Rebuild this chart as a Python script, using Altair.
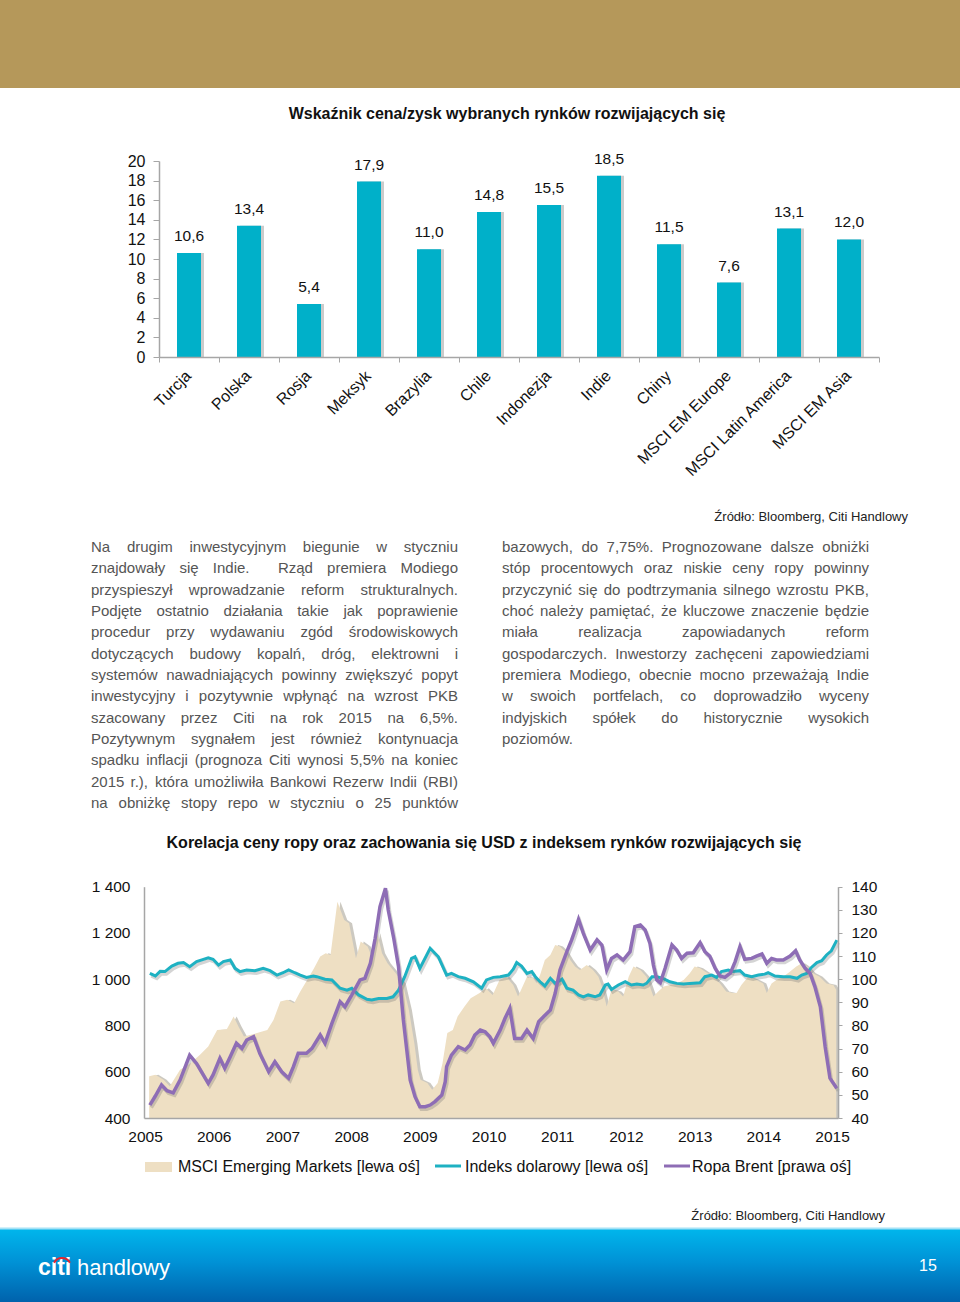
import altair as alt
import pandas as pd

FONT = "Liberation Sans"
GOLD = "#B5985A"
BAR = "#00B0C9"
CYAN = "#1EB1C2"
PURPLE = "#8E6DB5"
BEIGE = "#EEDFC3"
TXT = "#555555"
INK = "#111111"
AXC = "#A6A6A6"

# ---------------- data: bar chart ----------------
bar_categories = ["Turcja", "Polska", "Rosja", "Meksyk", "Brazylia", "Chile", "Indonezja",
                  "Indie", "Chiny", "MSCI EM Europe", "MSCI Latin America", "MSCI EM Asia"]
bar_values = [10.6, 13.4, 5.4, 17.9, 11.0, 14.8, 15.5, 18.5, 11.5, 7.6, 13.1, 12.0]
bar_labels = [f"{v:.1f}".replace(".", ",") for v in bar_values]
bar_ticks = list(range(0, 21, 2))

# ---------------- data: line chart ----------------
msci_t = [2005.06, 2005.15, 2005.27, 2005.36, 2005.51, 2005.66, 2005.80, 2005.92, 2006.05, 2006.19,
          2006.29, 2006.36, 2006.44, 2006.63, 2006.78, 2006.87, 2006.97, 2007.07, 2007.17, 2007.26,
          2007.36, 2007.46, 2007.55, 2007.63, 2007.70, 2007.80, 2007.90, 2007.97, 2008.07, 2008.14,
          2008.24, 2008.31, 2008.38, 2008.45, 2008.53, 2008.65, 2008.75, 2008.84, 2008.92, 2008.97,
          2009.01, 2009.11, 2009.18, 2009.26, 2009.33, 2009.40, 2009.48, 2009.55, 2009.65, 2009.74,
          2009.87, 2009.96, 2010.06, 2010.16, 2010.26, 2010.36, 2010.43, 2010.56, 2010.65, 2010.70,
          2010.75, 2010.82, 2010.90, 2010.97, 2011.04, 2011.12, 2011.19, 2011.26, 2011.33, 2011.43,
          2011.52, 2011.60, 2011.65, 2011.72, 2011.79, 2011.89, 2011.96, 2012.04, 2012.11, 2012.21,
          2012.30, 2012.40, 2012.47, 2012.55, 2012.64, 2012.74, 2012.84, 2012.93, 2013.00, 2013.08,
          2013.15, 2013.27, 2013.37, 2013.46, 2013.56, 2013.61, 2013.68, 2013.78, 2013.90, 2014.00,
          2014.05, 2014.12, 2014.19, 2014.29, 2014.39, 2014.48, 2014.56, 2014.63, 2014.72, 2014.82,
          2014.92, 2015.02, 2015.06]
msci_v = [580, 587, 565, 537, 609, 637, 673, 709, 781, 784,
          839, 796, 752, 767, 781, 824, 904, 911, 896, 947,
          997, 1047, 1098, 1112, 1105, 1335, 1256, 1242, 1091, 1163,
          1141, 1091, 1199, 1112, 1069, 1026, 983, 868, 724, 609,
          565, 551, 522, 551, 637, 767, 781, 839, 882, 918,
          940, 961, 932, 997, 1011, 975, 925, 1011, 1004, 983,
          1018, 1083, 1105, 1148, 1141, 1119, 1083, 1055, 1040, 1062,
          1040, 1011, 968, 882, 954, 947, 925, 1011, 1055, 1040,
          1011, 925, 947, 968, 975, 982, 997, 1026, 1055, 1047,
          1033, 1011, 982, 947, 940, 940, 975, 1011, 997, 982,
          940, 982, 997, 1011, 1033, 1055, 1069, 1055, 1026, 1011,
          982, 975, 954]

usd_t = [2005.07, 2005.15, 2005.22, 2005.29, 2005.39, 2005.48, 2005.56, 2005.65, 2005.75, 2005.85,
         2005.92, 2005.99, 2006.07, 2006.14, 2006.24, 2006.31, 2006.38, 2006.48, 2006.60, 2006.72,
         2006.82, 2006.92, 2007.01, 2007.09, 2007.18, 2007.26, 2007.35, 2007.45, 2007.50, 2007.62,
         2007.72, 2007.84, 2007.94, 2008.01, 2008.11, 2008.23, 2008.30, 2008.40, 2008.52, 2008.61,
         2008.69, 2008.78, 2008.88, 2008.93, 2009.00, 2009.15, 2009.27, 2009.39, 2009.46, 2009.56,
         2009.66, 2009.78, 2009.90, 2009.97, 2010.07, 2010.17, 2010.29, 2010.36, 2010.41, 2010.48,
         2010.56, 2010.63, 2010.68, 2010.75, 2010.82, 2010.90, 2010.97, 2011.07, 2011.14, 2011.23,
         2011.31, 2011.38, 2011.45, 2011.55, 2011.62, 2011.70, 2011.74, 2011.79, 2011.89, 2011.99,
         2012.08, 2012.16, 2012.25, 2012.30, 2012.38, 2012.45, 2012.54, 2012.64, 2012.74, 2012.84,
         2012.93, 2013.08, 2013.15, 2013.25, 2013.32, 2013.39, 2013.49, 2013.56, 2013.66, 2013.73,
         2013.83, 2013.93, 2014.02, 2014.07, 2014.17, 2014.29, 2014.39, 2014.49, 2014.56, 2014.63,
         2014.70, 2014.78, 2014.85, 2014.92, 2014.99, 2015.07]
usd_v = [1025, 1014, 1034, 1033, 1057, 1069, 1072, 1054, 1076, 1086,
         1093, 1086, 1061, 1076, 1083, 1047, 1033, 1040, 1037, 1047,
         1037, 1018, 1028, 1040, 1028, 1018, 1008, 1014, 1011, 1000,
         997, 961, 953, 961, 932, 913, 910, 917, 917, 924,
         953, 1011, 1090, 1097, 1047, 1134, 1097, 1018, 1025, 1011,
         1004, 989, 961, 997, 1008, 1011, 1018, 1043, 1072, 1057,
         1025, 1033, 1011, 989, 971, 1004, 982, 1000, 961, 953,
         932, 924, 932, 924, 932, 975, 979, 956, 975, 989,
         975, 979, 975, 982, 1011, 1011, 1004, 989, 982, 979,
         982, 985, 1011, 1018, 1008, 1033, 1040, 1033, 1037, 1018,
         1011, 1018, 1022, 1028, 1014, 1011, 1011, 1004, 1018, 1025,
         1051, 1072, 1080, 1105, 1123, 1169]

brent_t = [2005.07, 2005.15, 2005.24, 2005.32, 2005.41, 2005.51, 2005.65, 2005.75, 2005.82, 2005.92,
           2005.99, 2006.09, 2006.16, 2006.24, 2006.33, 2006.41, 2006.48, 2006.58, 2006.67, 2006.80,
           2006.89, 2006.99, 2007.09, 2007.16, 2007.23, 2007.35, 2007.43, 2007.55, 2007.62, 2007.72,
           2007.84, 2007.91, 2008.01, 2008.13, 2008.20, 2008.28, 2008.35, 2008.42, 2008.50, 2008.54,
           2008.62, 2008.69, 2008.76, 2008.81, 2008.86, 2008.93, 2009.00, 2009.08, 2009.15, 2009.22,
           2009.32, 2009.37, 2009.39, 2009.46, 2009.56, 2009.66, 2009.73, 2009.80, 2009.88, 2009.95,
           2010.02, 2010.07, 2010.17, 2010.24, 2010.31, 2010.38, 2010.48, 2010.56, 2010.65, 2010.73,
           2010.80, 2010.90, 2010.97, 2011.04, 2011.14, 2011.21, 2011.26, 2011.31, 2011.38, 2011.48,
           2011.58, 2011.65, 2011.72, 2011.79, 2011.87, 2011.96, 2012.06, 2012.13, 2012.21, 2012.28,
           2012.35, 2012.40, 2012.45, 2012.50, 2012.57, 2012.67, 2012.74, 2012.81, 2012.89, 2012.98,
           2013.08, 2013.15, 2013.22, 2013.30, 2013.37, 2013.44, 2013.52, 2013.59, 2013.66, 2013.73,
           2013.83, 2013.90, 2013.98, 2014.05, 2014.12, 2014.19, 2014.29, 2014.39, 2014.47, 2014.53,
           2014.61, 2014.68, 2014.75, 2014.83, 2014.90, 2014.97, 2015.07]
brent_v = [45.6, 49.5, 54.3, 51.8, 50.9, 56.4, 67.2, 63.6, 60.0, 55.0,
           58.6, 65.8, 61.5, 66.5, 72.3, 70.1, 73.7, 75.2, 68.0, 60.0,
           64.3, 60.0, 57.2, 62.2, 68.0, 68.0, 70.1, 75.9, 72.3, 80.9,
           90.3, 88.1, 93.2, 99.7, 100.4, 106.9, 117.7, 131.4, 139.3, 129.9,
           117.7, 105.4, 82.4, 69.4, 56.4, 49.2, 44.9, 44.9, 45.6, 47.1,
           49.9, 55.7, 62.2, 67.2, 70.8, 69.4, 71.6, 75.9, 78.0, 77.3,
           75.1, 72.3, 78.0, 83.1, 87.4, 74.4, 74.4, 78.0, 74.4, 81.6,
           83.8, 86.7, 93.9, 104.0, 111.9, 117.0, 121.3, 125.9, 119.8, 112.6,
           117.0, 114.8, 104.0, 109.0, 110.5, 108.3, 111.9, 122.7, 123.4, 121.3,
           115.5, 106.1, 99.7, 98.5, 104.7, 114.8, 112.6, 109.0, 111.2, 111.4,
           115.8, 111.9, 110.0, 104.7, 101.4, 100.8, 102.6, 107.6, 114.1, 108.6,
           109.0, 110.0, 110.9, 106.9, 109.0, 108.3, 108.3, 110.0, 112.3, 108.3,
           104.7, 102.6, 96.8, 88.1, 70.8, 57.2, 52.8]

year_ticks = list(range(2005, 2016))
left_ticks = [400, 600, 800, 1000, 1200, 1400]
right_ticks = list(range(40, 141, 10))

legend_names = ["MSCI Emerging Markets [lewa oś]", "Indeks dolarowy [lewa oś]", "Ropa Brent [prawa oś]"]

# ---------------- text ----------------
title1 = "Wskaźnik cena/zysk wybranych rynków rozwijających się"
title2 = "Korelacja ceny ropy oraz zachowania się USD z indeksem rynków rozwijających się"
source = "Źródło: Bloomberg, Citi Handlowy"
left_lines = [
    "Na drugim inwestycyjnym biegunie w styczniu",
    "znajdowały się Indie.  Rząd premiera Modiego",
    "przyspieszył wprowadzanie reform strukturalnych.",
    "Podjęte ostatnio działania takie jak poprawienie",
    "procedur przy wydawaniu zgód środowiskowych",
    "dotyczących budowy kopalń, dróg, elektrowni i",
    "systemów nawadniających powinny zwiększyć popyt",
    "inwestycyjny i pozytywnie wpłynąć na wzrost PKB",
    "szacowany przez Citi na rok 2015 na 6,5%.",
    "Pozytywnym sygnałem jest również kontynuacja",
    "spadku inflacji (prognoza Citi wynosi 5,5% na koniec",
    "2015 r.), która umożliwiła Bankowi Rezerw Indii (RBI)",
    "na obniżkę stopy repo w styczniu o 25 punktów",
]
right_lines = [
    "bazowych, do 7,75%. Prognozowane dalsze obniżki",
    "stóp procentowych oraz niskie ceny ropy powinny",
    "przyczynić się do podtrzymania silnego wzrostu PKB,",
    "choć należy pamiętać, że kluczowe znaczenie będzie",
    "miała realizacja zapowiadanych reform",
    "gospodarczych. Inwestorzy zachęceni zapowiedziami",
    "premiera Modiego, obecnie mocno przeważają Indie",
    "w swoich portfelach, co doprowadziło wyceny",
    "indyjskich spółek do historycznie wysokich",
    "poziomów.",
]

# Arial / Liberation Sans advance widths (1/1000 em) for justified layout
AW = {' ': 278, '!': 278, '%': 889, '(': 333, ')': 333, ',': 278, '-': 333, '.': 278, '/': 278,
      ':': 278, ';': 278,
      'A': 667, 'B': 667, 'C': 722, 'D': 722, 'E': 667, 'F': 611, 'G': 778, 'H': 722, 'I': 278,
      'J': 500, 'K': 667, 'L': 556, 'M': 833, 'N': 722, 'O': 778, 'P': 667, 'Q': 778, 'R': 722,
      'S': 667, 'T': 611, 'U': 722, 'V': 667, 'W': 944, 'X': 667, 'Y': 667, 'Z': 611,
      'a': 556, 'b': 556, 'c': 500, 'd': 556, 'e': 556, 'f': 278, 'g': 556, 'h': 556, 'i': 222,
      'j': 222, 'k': 500, 'l': 222, 'm': 833, 'n': 556, 'o': 556, 'p': 556, 'q': 556, 'r': 333,
      's': 500, 't': 278, 'u': 556, 'v': 500, 'w': 722, 'x': 500, 'y': 500, 'z': 500,
      'ą': 556, 'ć': 500, 'ę': 556, 'ł': 222, 'ń': 556, 'ó': 556, 'ś': 500, 'ź': 500, 'ż': 500,
      'Ś': 667, 'Ź': 611, 'Ż': 611}
for d in "0123456789":
    AW[d] = 556

FS = 15


def tw(s):
    return sum(AW.get(c, 556) for c in s) * FS / 1000.0


def layout(lines, x0, width, y0, dy, last_left):
    rows = []
    for i, line in enumerate(lines):
        words = line.split(" ")
        widths = [tw(w) for w in words]
        n = len(words)
        justify = not (last_left and i == len(lines) - 1) and n > 1
        gap = (width - sum(widths)) / (n - 1) if justify else tw(" ")
        x = x0
        for w, wd in zip(words, widths):
            if w:
                rows.append({"word": w, "wx": x, "wy": y0 + i * dy})
            x += wd + gap
    return rows


words_df = pd.DataFrame(layout(left_lines, 91, 367, 547, 21.33, False) +
                        layout(right_lines, 502, 367, 547, 21.33, True))

one = pd.DataFrame({"k": [0]})


def deco_text(txt, x, y, size=15, weight="normal", align="left", color=INK):
    return alt.Chart(one).mark_text(text=txt, font=FONT, fontSize=size, fontWeight=weight,
                                    align=align, baseline="middle", color=color).encode(
        x=alt.value(x), y=alt.value(y))


def deco_rect(x, x2, y, y2, color):
    return alt.Chart(one).mark_rect(color=color).encode(
        x=alt.value(x), x2=alt.value(x2), y=alt.value(y), y2=alt.value(y2))


def deco_rule(x, x2, y, color, width):
    return alt.Chart(one).mark_rule(color=color, strokeWidth=width).encode(
        x=alt.value(x), x2=alt.value(x2), y=alt.value(y))


# ---------------- header ----------------
header = deco_rect(0, 960, 0, 88, GOLD)
t1 = deco_text(title1, 507, 114, 16, "bold", "center")
src1 = deco_text(source, 908, 517, 13, "normal", "right", "#222222")

# ---------------- bar chart ----------------
bar_df = pd.DataFrame({"cat": bar_categories, "v": bar_values, "label": bar_labels})


def bx(axis):
    return alt.X("cat:N", sort=bar_categories, title=None,
                 scale=alt.Scale(domain=bar_categories, range=[159, 879], paddingInner=0, paddingOuter=0),
                 axis=axis)


def by(axis):
    return alt.Y("v:Q", title=None, scale=alt.Scale(domain=[0, 20], range=[357, 161], nice=False),
                 axis=axis)


bar_x_axis = alt.Axis(orient="bottom", offset=357 - 1302, labelAngle=-45, labelAlign="right",
                      labelBaseline="middle", tickBand="extent", tickSize=5, labelPadding=11,
                      labelOffset=-1,
                      labelOverlap=False, labelBound=False, labelFontSize=16, zindex=1)
bar_y_axis = alt.Axis(orient="left", offset=-159, values=bar_ticks, tickSize=6, labelPadding=8,
                      labelFontSize=16, zindex=1)

bars_shadow = alt.Chart(bar_df).mark_bar(width=24, color="#8C8C8C", opacity=0.45, xOffset=3).encode(
    x=bx(None), y=by(None))
bars = alt.Chart(bar_df).mark_bar(width=24, color=BAR).encode(x=bx(bar_x_axis), y=by(bar_y_axis))
bar_text = alt.Chart(bar_df).mark_text(font=FONT, fontSize=15.5, color=INK, baseline="middle", dy=-17).encode(
    x=bx(None), y=by(None), text="label:N")

# ---------------- paragraphs ----------------
paragraphs = alt.Chart(words_df).mark_text(font=FONT, fontSize=FS, color=TXT, align="left",
                                           baseline="middle").encode(
    x=alt.X("wx:Q", scale=None, axis=None), y=alt.Y("wy:Q", scale=None, axis=None), text="word:N")

# ---------------- line chart ----------------
t2 = deco_text(title2, 484, 843, 16, "bold", "center")

msci_df = pd.DataFrame({"t": msci_t, "v": msci_v})
usd_df = pd.DataFrame({"t": usd_t, "v": usd_v})
brent_df = pd.DataFrame({"t": brent_t, "v": brent_v})


def lx(axis):
    return alt.X("t:Q", title=None,
                 scale=alt.Scale(domain=[2004.985, 2015.087], range=[144, 838], nice=False, zero=False),
                 axis=axis)


def ly_left(axis):
    return alt.Y("v:Q", title=None,
                 scale=alt.Scale(domain=[400, 1400], range=[1118, 886.7], nice=False, zero=False),
                 axis=axis)


def ly_right(axis):
    return alt.Y("v:Q", title=None,
                 scale=alt.Scale(domain=[40, 140], range=[1118, 886.7], nice=False, zero=False),
                 axis=axis)


line_x_axis = alt.Axis(orient="bottom", offset=1118 - 1302, values=year_ticks, format="d", ticks=False,
                       tickSize=0, labelPadding=11, labelFlush=False, labelOverlap=False,
                       labelFontSize=15.5, zindex=1)
left_axis = alt.Axis(orient="left", offset=-144, values=left_ticks, ticks=False, tickSize=0,
                     labelPadding=14, labelFontSize=15.5, zindex=1,
                     labelExpr="replace(format(datum.value, ','), ',', ' ')")
right_axis = alt.Axis(orient="right", offset=838 - 960, values=right_ticks, tickSize=4, labelPadding=9,
                      labelFontSize=15.5, zindex=1)

area_shadow = alt.Chart(msci_df).mark_area(color="#A39C8E", opacity=0.55, xOffset=3).encode(
    x=lx(None), y=ly_left(None), y2=alt.datum(400))
area = alt.Chart(msci_df).mark_area(color=BEIGE).encode(
    x=lx(line_x_axis), y=ly_left(left_axis), y2=alt.datum(400))
usd_shadow = alt.Chart(usd_df).mark_line(color="#6F6F6F", opacity=0.3, strokeWidth=3.5,
                                         xOffset=1.5, yOffset=2.5).encode(x=lx(None), y=ly_left(None))
usd = alt.Chart(usd_df).mark_line(color=CYAN, strokeWidth=3).encode(x=lx(None), y=ly_left(None))
brent_shadow = alt.Chart(brent_df).mark_line(color="#6F6F6F", opacity=0.3, strokeWidth=3.5,
                                             xOffset=1.5, yOffset=2.5).encode(x=lx(None), y=ly_right(None))
brent = alt.Chart(brent_df).mark_line(color=PURPLE, strokeWidth=3.5).encode(
    x=lx(None), y=ly_right(right_axis))

# ---------------- legend ----------------
leg_box = deco_rect(145, 172, 1162, 1172, BEIGE)
leg_t1 = deco_text(legend_names[0], 178, 1167, 16)
leg_l2 = deco_rule(435, 461, 1166, CYAN, 3)
leg_t2 = deco_text(legend_names[1], 465, 1167, 16)
leg_l3 = deco_rule(664, 690, 1166, PURPLE, 3)
leg_t3 = deco_text(legend_names[2], 692, 1167, 16)
src2 = deco_text(source, 885, 1216, 13, "normal", "right", "#222222")

# ---------------- footer ----------------
footer = alt.Chart(one).mark_rect(
    color=alt.LinearGradient(gradient="linear", x1=0, x2=0, y1=0, y2=1,
                             stops=[alt.GradientStop(color="#00B6EC", offset=0),
                                    alt.GradientStop(color="#0092D6", offset=0.45),
                                    alt.GradientStop(color="#0062AC", offset=1)])).encode(
    x=alt.value(0), x2=alt.value(960), y=alt.value(1229), y2=alt.value(1302))
footer_line = deco_rule(0, 960, 1228.5, "#A6E2F5", 2)
logo1 = deco_text("citi", 38, 1268, 23, "bold", "left", "white")
logo2 = deco_text("handlowy", 77, 1268, 22, "normal", "left", "white")
logo_arc = alt.Chart(one).mark_arc(theta=5.2, theta2=7.36, radius=10, radius2=8, color="#E3262F").encode(
    x=alt.value(62), y=alt.value(1267))
page_no = deco_text("15", 928, 1266, 16, "normal", "center", "white")

chart = alt.layer(
    header, t1,
    bars_shadow, bars, bar_text, src1,
    paragraphs,
    t2, area_shadow, area, usd_shadow, usd, brent_shadow, brent,
    leg_box, leg_t1, leg_l2, leg_t2, leg_l3, leg_t3, src2,
    footer, footer_line, logo1, logo2, logo_arc, page_no,
).resolve_scale(x="independent", y="independent").properties(
    width=960, height=1302, padding=0, autosize=alt.AutoSizeParams(type="none"),
).configure(background="white", font=FONT).configure_view(stroke=None).configure_axis(
    labelFont=FONT, labelColor=INK, domainColor=AXC, tickColor=AXC, grid=False, domainWidth=1.5)

chart.save("out.html", embed_options={"renderer": "svg", "actions": False})
